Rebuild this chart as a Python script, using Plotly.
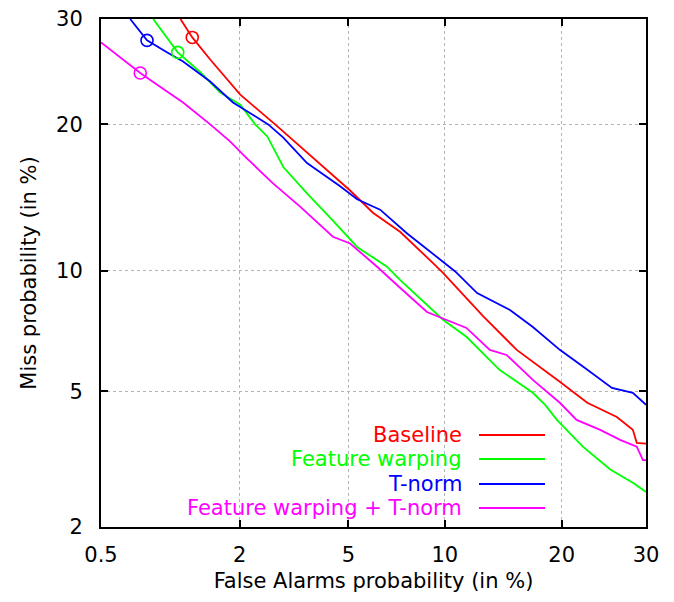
import plotly.graph_objects as go
from statistics import NormalDist

_nd = NormalDist()


def probit(values_percent):
    return [_nd.inv_cdf(v / 100.0) for v in values_percent]


# ---- axis ticks (in %) ----
x_ticks = [0.5, 2, 5, 10, 20, 30]
x_tick_labels = ["0.5", "2", "5", "10", "20", "30"]
y_ticks = [2, 5, 10, 20, 30]
y_tick_labels = ["2", "5", "10", "20", "30"]

# ---- DET curves: false alarm (%) vs miss (%) ----
baseline_fa = [1.14, 1.28, 1.52, 2.01, 2.74, 3.59, 5.07, 6.03, 7.35, 9.24, 9.88,
               12.8, 15.6, 19.8, 22.8, 26.3, 28.3, 28.8, 30.0]
baseline_miss = [30.0, 28.1, 25.9, 22.6, 20.0, 17.7, 14.9, 13.4, 12.2, 10.4, 9.88,
                 7.77, 6.42, 5.30, 4.65, 4.25, 3.91, 3.59, 3.57]

fw_fa = [0.867, 1.11, 1.38, 1.67, 2.01, 2.30, 2.56, 2.94, 3.59, 4.43, 5.35, 6.69,
         7.35, 9.88, 11.5, 14.1, 17.1, 18.3, 19.5, 22.3, 25.5, 28.3, 30.0]
fw_miss = [30.0, 26.6, 24.7, 22.8, 21.7, 20.0, 19.0, 16.6, 14.7, 12.9, 11.3, 10.2,
           9.51, 7.64, 6.93, 5.70, 4.95, 4.59, 4.17, 3.50, 3.00, 2.74, 2.57]

tnorm_fa = [0.683, 0.814, 1.00, 1.17, 1.52, 1.88, 2.58, 2.94, 3.59, 4.69, 5.35, 6.36,
            7.73, 10.7, 12.3, 15.0, 17.1, 19.8, 22.5, 25.7, 28.3, 30.0]
tnorm_miss = [30.0, 27.8, 26.6, 25.7, 23.8, 21.9, 20.0, 18.9, 16.9, 15.2, 14.3, 13.6,
              12.1, 9.95, 8.86, 8.07, 7.33, 6.42, 5.77, 5.10, 4.95, 4.59]

fwt_fa = [0.5, 0.759, 0.903, 1.17, 1.52, 1.83, 2.10, 2.69, 3.39, 4.43, 5.07, 6.22,
          7.35, 8.87, 11.5, 13.3, 14.7, 17.1, 19.8, 21.6, 24.3, 26.7, 28.8, 29.6, 30.0]
fwt_miss = [27.6, 24.6, 23.5, 21.9, 20.0, 18.6, 17.4, 15.4, 13.8, 11.9, 11.5, 10.2,
            9.12, 7.98, 7.29, 6.42, 6.23, 5.36, 4.65, 4.17, 3.91, 3.66, 3.50, 3.20, 3.20]

# ---- operating points (circles) ----
op_fa = [1.28, 1.11, 0.814, 0.759]
op_miss = [28.1, 26.6, 27.8, 24.6]

series_names = ["Baseline", "Feature warping", "T-norm", "Feature warping + T-norm"]
series_colors = ["#ff0000", "#00ff00", "#0000ff", "#ff00ff"]
series_fa = [baseline_fa, fw_fa, tnorm_fa, fwt_fa]
series_miss = [baseline_miss, fw_miss, tnorm_miss, fwt_miss]

FONT = "DejaVu Sans"
FS = 21

fig = go.Figure()
for name, fa, miss, col in zip(series_names, series_fa, series_miss, series_colors):
    fig.add_trace(go.Scatter(x=probit(fa), y=probit(miss), mode="lines", name=name,
                             line=dict(color=col, width=1.8), showlegend=False,
                             hoverinfo="skip"))

fig.add_trace(go.Scatter(x=probit(op_fa), y=probit(op_miss), mode="markers",
                         marker=dict(symbol="circle-open", size=12, color=series_colors,
                                     line=dict(width=1.6)),
                         showlegend=False, hoverinfo="skip"))

# ---- layout geometry (pixels; page body adds an 8px offset) ----
W, H = 666, 594
L, R, T, B = 93, 28, 11, 75
pw, ph = W - L - R, H - T - B
OFF = 8  # body margin of the page


def px(xp):
    return (xp - OFF - L) / pw


def py(yp):
    return (T + ph - (yp - OFF)) / ph


shapes = [
    # opaque key box (drawn over the grid, under the curves)
    dict(type="rect", xref="paper", yref="paper", x0=px(145), x1=px(552),
         y0=py(523), y1=py(423), fillcolor="white", line=dict(width=0), layer="between"),
]
annotations = []
key_rows = [435, 459, 484, 508]
for name, col, yr in zip(series_names, series_colors, key_rows):
    annotations.append(dict(xref="paper", yref="paper", x=px(464), y=py(yr),
                            xanchor="right", yanchor="middle", text=name, showarrow=False,
                            font=dict(family=FONT, size=FS, color=col)))
    shapes.append(dict(type="line", xref="paper", yref="paper", x0=px(479), x1=px(545),
                       y0=py(yr), y1=py(yr), line=dict(color=col, width=1.8)))

axis_common = dict(
    ticks="inside", ticklen=7, tickwidth=2, tickcolor="black",
    showline=True, linewidth=2, linecolor="black", mirror="ticks",
    showgrid=True, gridcolor="#b4b4b4", griddash="dot", gridwidth=1,
    zeroline=False, tickfont=dict(family=FONT, size=FS, color="black"),
    automargin=False, ticklabeloverflow="allow",
)

fig.update_layout(
    width=W, height=H,
    margin=dict(l=L, r=R, t=T, b=B),
    paper_bgcolor="white", plot_bgcolor="white",
    xaxis=dict(range=[_nd.inv_cdf(0.005), _nd.inv_cdf(0.30)],
               tickvals=probit(x_ticks), ticktext=x_tick_labels,
               ticklabelstandoff=8,
               title=dict(text="False Alarms probability (in %)",
                          font=dict(family=FONT, size=FS, color="black"), standoff=7),
               **axis_common),
    yaxis=dict(range=[_nd.inv_cdf(0.02), _nd.inv_cdf(0.30)],
               tickvals=probit(y_ticks), ticktext=y_tick_labels,
               ticklabelstandoff=12,
               title=dict(text="Miss probability (in %)",
                          font=dict(family=FONT, size=FS, color="black"), standoff=14),
               **axis_common),
    shapes=shapes,
    annotations=annotations,
)

fig.write_html("out.html")
